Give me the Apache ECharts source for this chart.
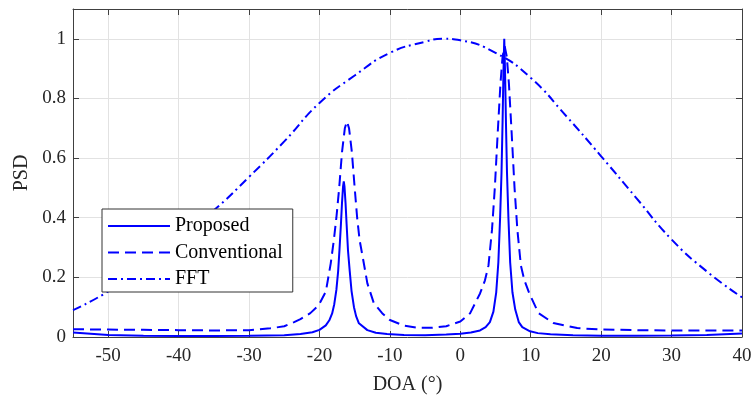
<!DOCTYPE html>
<html>
<head>
<meta charset="utf-8">
<script src="https://cdn.jsdelivr.net/npm/echarts@6/dist/echarts.min.js"></script>
<style>
  html, body { margin: 0; padding: 0; background: #fff; }
  #psd-chart { width: 752px; height: 396px; }
</style>
</head>
<body>
<div id="psd-chart"></div>
<script>
// Proposed method (solid)
const propDoa = [-55, -50, -45, -40, -35, -30, -25, -22.7, -21, -20, -19.1, -18.6, -18.2, -17.9, -17.6, -17.35, -17.16, -16.95, -16.8, -16.65, -16.55, -16.45, -16.3, -16.15, -15.95, -15.7, -15.45, -15.1, -14.8, -14.4, -13.2, -12, -10.4, -8, -5, -2, 0, 1.5, 2.8, 3.6, 4.2, 4.7, 5.1, 5.4, 5.65, 5.85, 6.0, 6.12, 6.24, 6.36, 6.48, 6.63, 6.83, 7.08, 7.4, 7.8, 8.3, 8.8, 9.9, 11, 12.8, 16, 20, 25, 30, 35, 40];
const propPsd = [0.015, 0.007, 0.004, 0.003, 0.003, 0.004, 0.006, 0.01, 0.016, 0.024, 0.039, 0.056, 0.079, 0.11, 0.158, 0.22, 0.292, 0.38, 0.45, 0.505, 0.522, 0.505, 0.45, 0.38, 0.29, 0.22, 0.155, 0.1, 0.07, 0.046, 0.023, 0.014, 0.01, 0.007, 0.006, 0.008, 0.011, 0.015, 0.022, 0.033, 0.05, 0.085, 0.15, 0.25, 0.4, 0.55, 0.72, 0.88, 1.0, 0.88, 0.72, 0.55, 0.4, 0.25, 0.15, 0.092, 0.05, 0.033, 0.019, 0.013, 0.009, 0.006, 0.004, 0.004, 0.005, 0.007, 0.012];

// Conventional method (dashed)
const convDoa = [-55, -50, -45, -40, -35, -30, -27, -25, -23.6, -22.7, -21.3, -20.1, -19.1, -18.4, -17.96, -17.6, -17.2, -16.8, -16.4, -16.1, -15.8, -15.4, -15.0, -14.65, -14.3, -13.8, -13.2, -12.3, -11.1, -10, -8, -6, -4, -2, 0, 1.4, 2.8, 3.5, 4.0, 4.5, 4.9, 5.3, 5.7, 6.0, 6.3, 6.6, 6.9, 7.3, 7.7, 8.1, 8.6, 9.1, 9.8, 11.1, 13.2, 16.6, 20, 25, 30, 35, 40];
const convPsd = [0.026, 0.025, 0.024, 0.023, 0.022, 0.023, 0.029, 0.036, 0.05, 0.06, 0.08, 0.107, 0.152, 0.247, 0.325, 0.4, 0.5, 0.62, 0.7, 0.723, 0.7, 0.62, 0.5, 0.4, 0.325, 0.26, 0.18, 0.115, 0.08, 0.057, 0.038, 0.031, 0.031, 0.036, 0.052, 0.08, 0.146, 0.19, 0.24, 0.36, 0.5, 0.68, 0.85, 0.94, 0.975, 0.94, 0.85, 0.68, 0.5, 0.36, 0.24, 0.19, 0.146, 0.08, 0.047, 0.03, 0.025, 0.023, 0.022, 0.022, 0.022];

// FFT (dash-dot)
const fftDoa = [-55, -50, -45, -40, -35, -30, -25, -20, -15, -10, -5, -2.5, 0, 5, 10, 15, 20, 25, 30, 35, 40];
const fftPsd = [0.09, 0.153, 0.238, 0.333, 0.425, 0.537, 0.656, 0.785, 0.877, 0.953, 0.99, 1.0, 0.995, 0.953, 0.869, 0.742, 0.606, 0.466, 0.327, 0.22, 0.133];

const seriesNames = ['Proposed', 'Conventional', 'FFT'];

const pairs = (xs, ys) => xs.map((x, i) => [x, ys[i]]);

const chart = echarts.init(document.getElementById('psd-chart'), null, { renderer: 'canvas' });

const serif = 'Liberation Serif, Times New Roman, serif';
const axisColor = '#404040';
const gridColor = '#e2e2e2';
const textColor = '#262626';
const blue = '#0000ff';

const edgeLine = { show: true, onZero: false, lineStyle: { color: axisColor, width: 1 } };
const inTicks = { show: true, inside: true, length: 6, lineStyle: { color: axisColor } };

const baseX = {
    type: 'value',
    min: -55,
    max: 40,
    splitNumber: 10,
    minInterval: 10,
    maxInterval: 10,
    axisLine: edgeLine,
    axisTick: inTicks
};
const baseY = {
    type: 'value',
    min: 0,
    max: 1.1,
    interval: 0.2,
    axisLine: edgeLine,
    axisTick: inTicks
};

const option = {
    animation: false,
    backgroundColor: '#fff',
    grid: { left: 73, right: 10, top: 9, bottom: 59, outerBoundsMode: 'none' },
    legend: {
        data: seriesNames,
        orient: 'vertical',
        left: 102,
        top: 209,
        itemWidth: 62,
        itemHeight: 20,
        itemGap: 6.5,
        padding: [7, 10, 3, 5],
        backgroundColor: '#fff',
        borderColor: '#333',
        borderWidth: 1,
        itemStyle: { opacity: 0 },
        textStyle: { fontFamily: serif, fontSize: 20, lineHeight: 20, color: '#000' }
    },
    xAxis: [
        Object.assign({}, baseX, {
            name: 'DOA (°)',
            nameLocation: 'middle',
            nameGap: 38,
            nameTextStyle: { fontFamily: serif, fontSize: 20, color: textColor },
            axisLabel: { fontFamily: serif, fontSize: 19, color: textColor, margin: 10, showMinLabel: false },
            splitLine: { show: true, lineStyle: { color: gridColor, width: 1 } }
        }),
        Object.assign({}, baseX, {
            position: 'top',
            axisLabel: { show: false },
            splitLine: { show: false }
        })
    ],
    yAxis: [
        Object.assign({}, baseY, {
            name: 'PSD',
            nameLocation: 'middle',
            nameGap: 33,
            nameTextStyle: { fontFamily: serif, fontSize: 20, color: textColor },
            axisLabel: {
                fontFamily: serif, fontSize: 19, color: textColor, margin: 7,
                showMaxLabel: false,
                formatter: v => String(Math.round(v * 10) / 10)
            },
            splitLine: { show: true, lineStyle: { color: gridColor, width: 1 } }
        }),
        Object.assign({}, baseY, {
            position: 'right',
            axisLabel: { show: false },
            splitLine: { show: false }
        })
    ],
    series: [
        {
            name: seriesNames[0],
            type: 'line',
            data: pairs(propDoa, propPsd),
            symbol: 'none',
            smooth: false,
            color: blue,
            lineStyle: { color: blue, width: 2, type: 'solid' }
        },
        {
            name: seriesNames[1],
            type: 'line',
            data: pairs(convDoa, convPsd),
            symbol: 'none',
            smooth: false,
            color: blue,
            lineStyle: { color: blue, width: 2, type: [11, 6] }
        },
        {
            name: seriesNames[2],
            type: 'line',
            data: pairs(fftDoa, fftPsd),
            symbol: 'none',
            smooth: true,
            color: blue,
            lineStyle: { color: blue, width: 2, type: [9, 4, 2, 4] }
        }
    ]
};

window.addEventListener('resize', function () {
    chart.resize();
});

option && chart.setOption(option);
</script>
</body>
</html>
